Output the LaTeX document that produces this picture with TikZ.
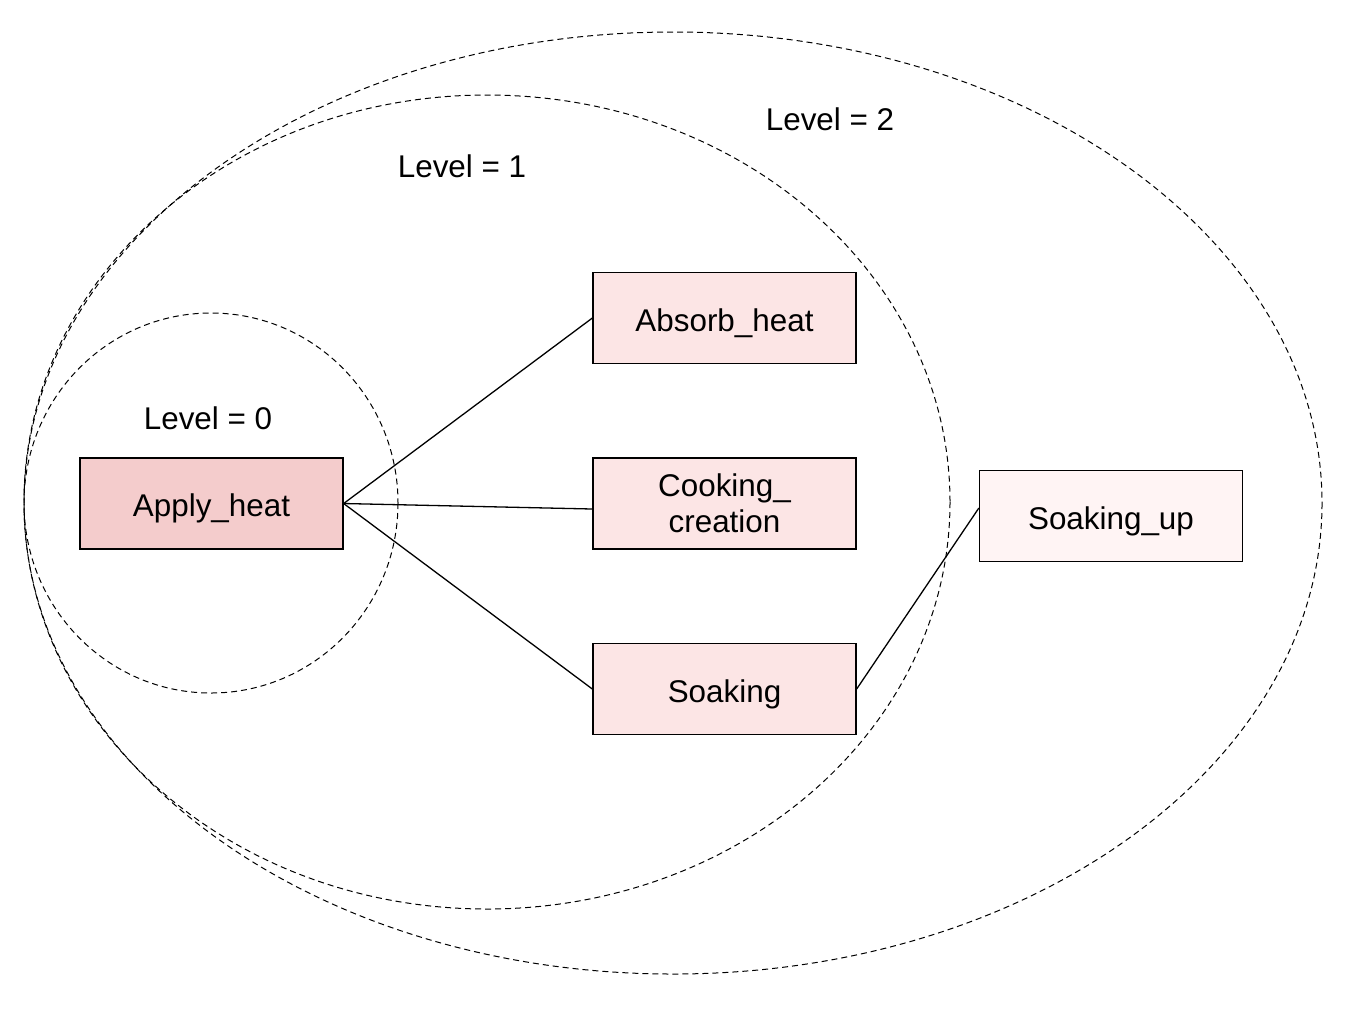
\documentclass[tikz,border=0pt]{standalone}
\usepackage{fontspec}
\setmainfont{Liberation Sans}
\definecolor{rootpink}{HTML}{F4CCCC}
\definecolor{levelpink}{HTML}{FCE5E5}
\definecolor{outerpink}{HTML}{FFF4F4}
\begin{document}
\begin{tikzpicture}[x=0.5pt,y=-0.5pt,
    task/.style={draw,line width=0.65pt,minimum width=131.5pt,minimum height=45.5pt,
        inner sep=0pt,align=center,font=\fontsize{15.7}{18}\selectfont},
    oneline/.style={text height=13pt,text depth=0pt},
    levelring/.style={dash pattern=on 3pt off 2pt,line width=0.5pt},
    levellabel/.style={font=\fontsize{15.7}{18}\selectfont}]
        \useasboundingbox (0,0) rectangle (1352,1008);
        %% Level rings
        \draw[levelring] (673,503) ellipse [x radius=649, y radius=471];
        \draw[levelring] (487,502) ellipse [x radius=463, y radius=407];
        \draw[levelring] (211,503) ellipse [x radius=187, y radius=190];
        %% Labels
        \node[levellabel] (lvl0) at (208,418) {Level = 0};
        \node[levellabel] (lvl1) at (462,166) {Level = 1};
        \node[levellabel] (lvl2) at (830,119) {Level = 2};
        %% Tasks
        \node[task,oneline,fill=rootpink]  (apply)   at (211.5,503.5) {Apply\_heat};
        \node[task,oneline,fill=levelpink] (absorb)  at (724.5,318)   {Absorb\_heat};
        \node[task,fill=levelpink,yshift=0pt] (cooking) at (724.5,503.5) {Cooking\_\\creation};
        \node[task,oneline,fill=levelpink] (soaking) at (724.5,689)   {Soaking};
        \node[task,oneline,fill=outerpink] (soakup)  at (1111,516)    {Soaking\_up};
        %% Links
        \draw[line width=0.65pt] (apply.east) -- (absorb.west);
        \draw[line width=0.65pt] (apply.east) -- ([yshift=-2.75pt]cooking.west);
        \draw[line width=0.65pt] (apply.east) -- (soaking.west);
        \draw[line width=0.65pt] (soaking.east) -- ([yshift=4pt]soakup.west);
    \end{tikzpicture}
\end{document}
